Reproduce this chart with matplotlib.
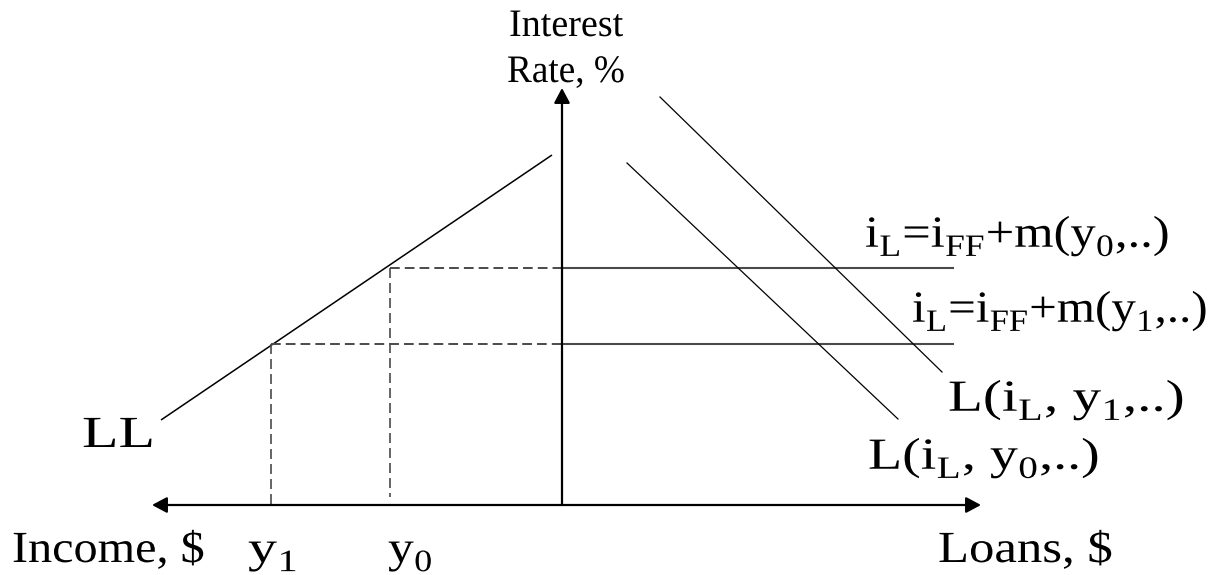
import matplotlib
matplotlib.use("Agg")
import matplotlib.pyplot as plt
from matplotlib.patheffects import AbstractPathEffect
from matplotlib.transforms import Affine2D

plt.rcParams['font.family'] = ['Liberation Serif', 'DejaVu Serif']
plt.rcParams['mathtext.default'] = 'regular'
plt.rcParams['mathtext.fontset'] = 'custom'
plt.rcParams['mathtext.rm'] = 'Liberation Serif'

# subscripts in the source sit lower than matplotlib's default
try:
    import matplotlib._mathtext as _mt
    _mt.FontConstantsBase.sub1 = 0.45
except Exception:
    pass

# ---- diagram data (origin at the axes crossing; x>0 loans, x<0 income, y = interest rate)
x_axis_ends = [-410, 419]
y_axis_top = 417
LL_x = [-401, -10]
LL_y = [85, 350]
rate_levels = [237, 161]          # i_L at y0, i_L at y1
income_levels = [-172, -291]      # y0, y1
rate_line_end = 391
Ly1_x = [98, 380]
Ly1_y = [408, 133]
Ly0_x = [65, 336]
Ly0_y = [342, 86]
y0_drop_bottom = 8

fig = plt.figure(figsize=(12.24, 5.75), dpi=100)
ax = fig.add_axes([0, 0, 1, 1])
ax.set_xlim(-562, 662)
ax.set_ylim(-70, 505)
ax.axis('off')


class HStretch(AbstractPathEffect):
    """Widen glyphs horizontally about an anchor (the source text is letter-spaced)."""
    def __init__(self, sx, x0):
        super().__init__()
        self.sx, self.x0 = sx, x0

    def draw_path(self, renderer, gc, tpath, affine, rgbFace=None):
        t = affine + Affine2D().translate(-self.x0, 0).scale(self.sx, 1).translate(self.x0, 0)
        renderer.draw_path(gc, tpath, t, rgbFace)


# axes with arrows
arrow_kw = dict(arrowstyle='-|>,head_length=0.45,head_width=0.24', mutation_scale=20,
                lw=1.6, color='black', shrinkA=0, shrinkB=0)
ax.annotate('', xy=(x_axis_ends[0], 0), xytext=(0, 0), arrowprops=arrow_kw)
ax.annotate('', xy=(x_axis_ends[1], 0), xytext=(0, 0), arrowprops=arrow_kw)
ax.annotate('', xy=(0, y_axis_top), xytext=(0, 0), arrowprops=arrow_kw)

# LL curve
ax.plot(LL_x, LL_y, color='black', lw=1.1, solid_capstyle='butt')

# rate levels: dashed on the income side, solid on the loans side
gray = '#4a4a4a'
for lvl, inc in zip(rate_levels, income_levels):
    ax.plot([inc, 0], [lvl, lvl], color=gray, lw=1.4, dashes=(5, 2.6))
    ax.plot([0, rate_line_end], [lvl, lvl], color=gray, lw=1.5)
# vertical drops to the income axis
ax.plot([income_levels[0], income_levels[0]], [rate_levels[0], y0_drop_bottom],
        color=gray, lw=1.2, dashes=(6, 3))
ax.plot([income_levels[1], income_levels[1]], [rate_levels[1], 0],
        color=gray, lw=1.2, dashes=(6, 3))

# loan demand curves
ax.plot(Ly1_x, Ly1_y, color='black', lw=0.9)
ax.plot(Ly0_x, Ly0_y, color='black', lw=0.9)

# labels: (left x, baseline y, text, font size, target width in px)
big = 32
labels = [
    (-53, 469, 'Interest', 28, 114),
    (-55, 423, 'Rate, %', 28, 118),
    (-480, 58, 'LL', big, 73),
    (-550, -57, 'Income, $', big, 193),
    (-314, -57, r'y$_{1}$', big, 50),
    (-174, -57, r'y$_{0}$', big, 45),
    (376, -57, 'Loans, $', big, 175),
    (303, 258, r'i$_{L}$=i$_{FF}$+m(y$_{0}$,..)', big, 305),
    (350, 183, r'i$_{L}$=i$_{FF}$+m(y$_{1}$,..)', big, 296),
    (386, 94, r'L(i$_{L}$, y$_{1}$,..)', big, 237),
    (306, 36, r'L(i$_{L}$, y$_{0}$,..)', big, 232),
]
texts = []
for x, y, s, fs, w in labels:
    texts.append((ax.text(x, y, s, fontsize=fs, ha='left', va='baseline'), w))

fig.canvas.draw()
renderer = fig.canvas.get_renderer()
for t, w in texts:
    bb = t.get_window_extent(renderer)
    t.set_path_effects([HStretch(w / bb.width, bb.x0)])

fig.savefig('out.png', dpi=100)
